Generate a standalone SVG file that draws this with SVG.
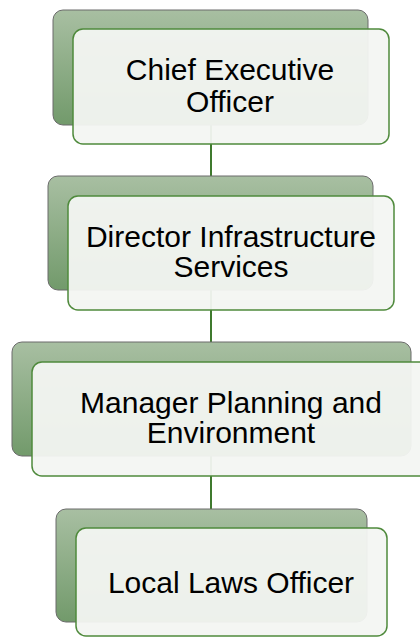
<svg xmlns="http://www.w3.org/2000/svg" width="420" height="637" viewBox="0 0 420 637">
<defs>
<linearGradient id="g" x1="0" y1="0" x2="0" y2="1">
<stop offset="0" stop-color="#a8bfa2"/>
<stop offset="1" stop-color="#729a6b"/>
</linearGradient>
<style>
.back{fill:url(#g);stroke:#6b6b6b;stroke-width:1}
.front{fill:#f3f6f2;fill-opacity:0.95;stroke:#4f8a3c;stroke-width:1.5}
.t{font-family:"Liberation Sans",Arial,sans-serif;font-size:30px;fill:#000;text-anchor:middle}
.c{stroke:#3f7a2e;stroke-width:2;fill:none}
</style>
</defs>
<rect width="420" height="637" fill="#fff"/>
<g id="connectors">
<line class="c" x1="211" y1="125" x2="211" y2="177"/>
<line class="c" x1="211" y1="290" x2="211" y2="342"/>
<line class="c" x1="211" y1="456" x2="211" y2="509"/>
</g>
<g id="ceo">
<rect class="back" x="53" y="10" width="315" height="115" rx="10"/>
<rect class="front" x="73" y="29" width="316" height="115" rx="10"/>
<text class="t" x="230" y="80">Chief Executive</text>
<text class="t" x="230" y="112">Officer</text>
</g>
<g id="director">
<rect class="back" x="48" y="176" width="325" height="114" rx="10"/>
<rect class="front" x="68" y="196" width="326" height="114" rx="10"/>
<text class="t" x="231" y="247">Director Infrastructure</text>
<text class="t" x="231" y="277">Services</text>
</g>
<g id="manager">
<rect class="back" x="12" y="342" width="399" height="114" rx="10"/>
<rect class="front" x="32" y="362" width="400" height="114" rx="10"/>
<text class="t" x="231" y="413">Manager Planning and</text>
<text class="t" x="231" y="443">Environment</text>
</g>
<g id="local">
<rect class="back" x="56" y="509" width="311" height="113" rx="10"/>
<rect class="front" x="76" y="528" width="311" height="108" rx="10"/>
<text class="t" x="231" y="593">Local Laws Officer</text>
</g>
</svg>
